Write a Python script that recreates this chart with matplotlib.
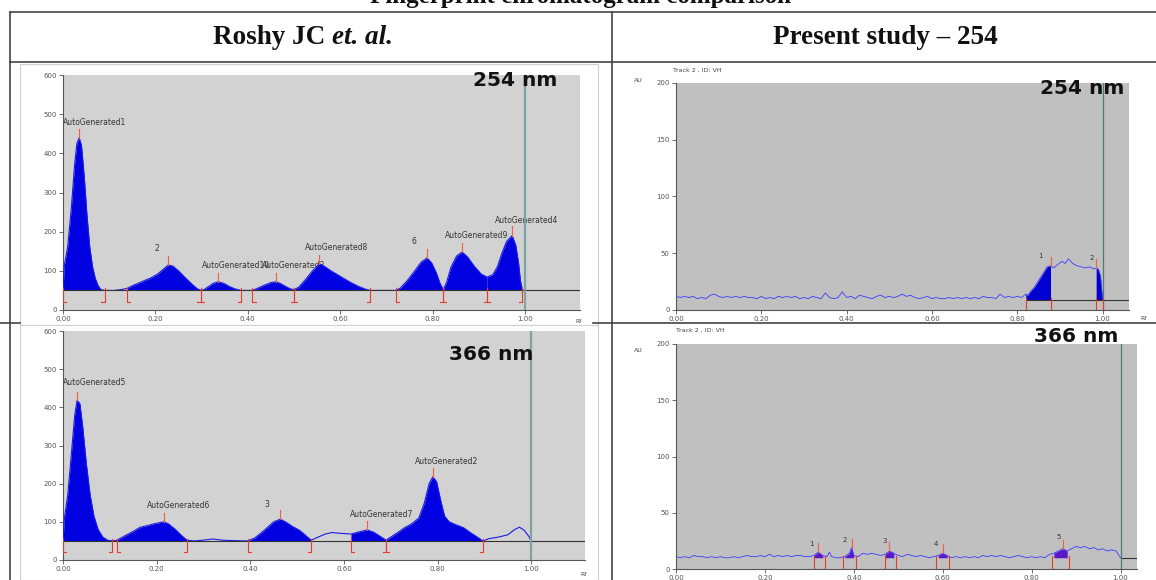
import matplotlib
matplotlib.use("Agg")
import matplotlib.pyplot as plt
from matplotlib.lines import Line2D
from matplotlib.patches import Rectangle
import numpy as np

W, H = 1156, 580

# ---- Roshy JC et al., 254 nm (baseline 50) ----
TL_RF = [0.000, 0.003, 0.010, 0.018, 0.025, 0.030, 0.035, 0.040, 0.046, 0.052, 0.058, 0.064,
         0.070, 0.076, 0.082, 0.090, 0.110, 0.125, 0.138, 0.150, 0.170, 0.190, 0.205, 0.218,
         0.228, 0.238, 0.250, 0.265, 0.280, 0.290, 0.298, 0.305, 0.315, 0.325, 0.336, 0.348,
         0.360, 0.372, 0.385, 0.400, 0.410, 0.420, 0.435, 0.450, 0.460, 0.470, 0.482, 0.492,
         0.500, 0.510, 0.525, 0.540, 0.555, 0.565, 0.580, 0.600, 0.620, 0.640, 0.655, 0.665,
         0.690, 0.720, 0.730, 0.745, 0.760, 0.775, 0.788, 0.798, 0.808, 0.816, 0.823, 0.830,
         0.840, 0.852, 0.864, 0.876, 0.890, 0.905, 0.918, 0.930, 0.940, 0.950, 0.960, 0.972,
         0.980, 0.986, 0.990, 0.994, 1.000]
TL_AU = [50, 115, 160, 260, 370, 425, 440, 420, 340, 240, 160, 110,
         80, 62, 52, 50, 50, 52, 55, 62, 72, 82, 92, 105,
         115, 112, 100, 82, 65, 55, 50, 52, 60, 68, 72, 68,
         60, 54, 50, 50, 50, 55, 63, 70, 72, 68, 60, 54,
         52, 58, 78, 100, 118, 112, 100, 86, 72, 60, 53, 50,
         50, 50, 56, 75, 98, 122, 133, 120, 95, 68, 52, 70,
         110, 138, 148, 135, 112, 92, 84, 90, 110, 145, 175, 190,
         165, 120, 75, 52, 50]
TL_WINDOWS = [(0.000, 0.090), (0.138, 0.298), (0.298, 0.385), (0.410, 0.500),
              (0.500, 0.665), (0.720, 0.823), (0.823, 0.918), (0.918, 0.994)]
TL_LABELS = ["AutoGenerated1", "2", "AutoGenerated10", "AutoGenerated3",
             "AutoGenerated8", "6", "AutoGenerated9", "AutoGenerated4"]
TL_LABEL_RF = [0.0, 0.197, 0.300, 0.430, 0.524, 0.755, 0.827, 0.935]
TL_LABEL_AU = [472, 150, 107, 107, 153, 168, 183, 222]

# ---- Roshy JC et al., 366 nm (baseline 50) ----
BL_RF = [0.000, 0.003, 0.010, 0.018, 0.025, 0.030, 0.036, 0.042, 0.050, 0.058, 0.066, 0.075,
         0.085, 0.095, 0.105, 0.115, 0.130, 0.150, 0.165, 0.180, 0.195, 0.215, 0.225, 0.240,
         0.255, 0.265, 0.280, 0.300, 0.320, 0.340, 0.360, 0.390, 0.395, 0.410, 0.430, 0.450,
         0.464, 0.475, 0.490, 0.505, 0.515, 0.530, 0.545, 0.560, 0.575, 0.590, 0.605, 0.615,
         0.630, 0.650, 0.665, 0.680, 0.690, 0.700, 0.715, 0.730, 0.745, 0.760, 0.772, 0.782,
         0.790, 0.798, 0.806, 0.815, 0.825, 0.840, 0.855, 0.870, 0.885, 0.897, 0.910, 0.930,
         0.950, 0.965, 0.975, 0.985, 0.995, 1.000]
BL_AU = [50, 110, 170, 280, 380, 418, 410, 350, 250, 170, 115, 80,
         60, 52, 50, 52, 62, 75, 86, 90, 95, 100, 95, 80,
         62, 52, 50, 52, 55, 52, 51, 50, 50, 58, 78, 100,
         107, 100, 88, 78, 68, 52, 60, 68, 72, 70, 69, 68,
         73, 79, 72, 60, 52, 60, 72, 85, 95, 110, 150, 200,
         218, 205, 160, 115, 100, 92, 85, 72, 60, 50, 56, 60,
         66, 80, 86, 78, 62, 50]
BL_WINDOWS = [(0.000, 0.105), (0.115, 0.265), (0.395, 0.530), (0.615, 0.690), (0.690, 0.897)]
BL_LABELS = ["AutoGenerated5", "AutoGenerated6", "3", "AutoGenerated7", "AutoGenerated2"]
BL_LABEL_RF = [0.0, 0.179, 0.430, 0.613, 0.752]
BL_LABEL_AU = [458, 136, 140, 113, 251]

# ---- Present study, 254 nm (baseline ~9) ----
TR_RF = [0.00, 0.01, 0.02, 0.03, 0.04, 0.05, 0.06, 0.07, 0.08, 0.09, 0.10, 0.11, 0.12, 0.13,
         0.14, 0.15, 0.16, 0.17, 0.18, 0.19, 0.20, 0.21, 0.22, 0.23, 0.24, 0.25, 0.26, 0.27,
         0.28, 0.29, 0.30, 0.31, 0.32, 0.33, 0.34, 0.35, 0.36, 0.37, 0.38, 0.39, 0.40, 0.41,
         0.42, 0.43, 0.44, 0.45, 0.46, 0.47, 0.48, 0.49, 0.50, 0.51, 0.52, 0.53, 0.54, 0.55,
         0.56, 0.57, 0.58, 0.59, 0.60, 0.61, 0.62, 0.63, 0.64, 0.65, 0.66, 0.67, 0.68, 0.69,
         0.70, 0.71, 0.72, 0.73, 0.74, 0.75, 0.76, 0.77, 0.78, 0.79, 0.80, 0.81, 0.82, 0.825,
         0.83, 0.84, 0.85, 0.86, 0.87, 0.878, 0.885, 0.895, 0.905, 0.912, 0.92, 0.93, 0.94,
         0.95, 0.96, 0.97, 0.98, 0.985, 0.99, 0.995, 1.00]
TR_AU = [12, 11, 12, 11, 12, 10, 11, 10, 13, 14, 12, 11, 12, 11,
         12, 11, 12, 11, 11, 10, 12, 10, 11, 10, 12, 11, 12, 11,
         12, 10, 11, 10, 12, 11, 10, 15, 11, 10, 11, 16, 11, 12,
         10, 13, 12, 11, 10, 12, 13, 11, 12, 11, 12, 14, 12, 13,
         11, 10, 11, 12, 10, 11, 10, 10, 11, 10, 11, 10, 11, 10,
         11, 10, 12, 11, 11, 10, 14, 11, 12, 11, 12, 11, 14, 13,
         16, 20, 26, 32, 38, 39, 37, 40, 43, 41, 45, 41, 39,
         38, 37, 38, 36, 37, 36, 30, 10]
TR_WINDOWS = [(0.820, 0.878), (0.985, 1.000)]
TR_LABELS = ["1", "2"]
TR_LABEL_RF = [0.849, 0.970]
TR_LABEL_AU = [46, 44]

# ---- Present study, 366 nm (baseline ~10) ----
BR_RF = [0.00, 0.01, 0.02, 0.03, 0.04, 0.05, 0.06, 0.07, 0.08, 0.09, 0.10, 0.11, 0.12, 0.13,
         0.14, 0.15, 0.16, 0.17, 0.18, 0.19, 0.20, 0.21, 0.22, 0.23, 0.24, 0.25, 0.26, 0.27,
         0.28, 0.29, 0.30, 0.31, 0.32, 0.33, 0.34, 0.345, 0.35, 0.36, 0.37, 0.38, 0.39, 0.395,
         0.40, 0.41, 0.42, 0.43, 0.44, 0.45, 0.46, 0.47, 0.48, 0.49, 0.50, 0.51, 0.52, 0.53,
         0.54, 0.55, 0.56, 0.57, 0.58, 0.59, 0.60, 0.61, 0.62, 0.63, 0.64, 0.65, 0.66, 0.67,
         0.68, 0.69, 0.70, 0.71, 0.72, 0.73, 0.74, 0.75, 0.76, 0.77, 0.78, 0.79, 0.80, 0.81,
         0.82, 0.83, 0.84, 0.85, 0.86, 0.87, 0.88, 0.89, 0.90, 0.91, 0.92, 0.93, 0.94, 0.95,
         0.96, 0.97, 0.98, 0.99, 1.00]
BR_AU = [11, 10, 11, 10, 12, 11, 11, 10, 11, 10, 11, 10, 10, 11,
         10, 11, 12, 11, 11, 12, 11, 13, 11, 12, 11, 12, 11, 12,
         12, 11, 11, 12, 15, 12, 11, 15, 11, 10, 10, 11, 14, 19,
         12, 11, 14, 13, 14, 13, 12, 13, 16, 14, 12, 11, 13, 12,
         11, 12, 11, 10, 11, 12, 14, 12, 10, 11, 10, 11, 10, 11,
         10, 12, 11, 12, 11, 12, 11, 10, 11, 12, 11, 10, 11, 10,
         11, 10, 13, 14, 16, 18, 16, 18, 20, 19, 20, 18, 19, 17,
         18, 16, 17, 16, 10]
BR_WINDOWS = [(0.31, 0.335), (0.375, 0.405), (0.47, 0.495), (0.585, 0.615), (0.845, 0.885)]
BR_LABELS = ["1", "2", "3", "4", "5"]
BR_LABEL_RF = [0.300, 0.375, 0.465, 0.580, 0.855]
BR_LABEL_AU = [20, 24, 23, 20, 27]

LEFT_YTICKS = [0, 100, 200, 300, 400, 500, 600]
RIGHT_YTICKS = [0, 50, 100, 150, 200]
RF_TICKS = [0.0, 0.2, 0.4, 0.6, 0.8, 1.0]


def px_axes(fig, x0, y0, x1, y1):
    return fig.add_axes([x0 / W, 1 - y1 / H, (x1 - x0) / W, (y1 - y0) / H])


def fig_line(fig, xs, ys, color="#444444", lw=1.2):
    fig.add_artist(Line2D([x / W for x in xs], [1 - y / H for y in ys],
                          transform=fig.transFigure, color=color, lw=lw, zorder=10))


def draw_chrom(ax, rf, au, windows, base, xmax, ymax, yticks, bg, fill, line, lw,
               vline_color, vline_lw, base_from):
    rf = np.asarray(rf, dtype=float)
    au = np.asarray(au, dtype=float)
    ax.set_facecolor(bg)
    ax.set_xlim(0, xmax)
    ax.set_ylim(0, ymax)
    ax.plot(rf, au, color=line, lw=lw, zorder=3)
    d = 0.03 * ymax
    dx = 0.007
    for a, b in windows:
        m = (rf >= a - 1e-9) & (rf <= b + 1e-9)
        ax.fill_between(rf[m], au[m], base, color=fill, lw=0, zorder=2)
        ax.plot([a, a, a + dx], [base + 0.3 * d, base - 1.6 * d, base - 1.6 * d],
                color="#e83a2a", lw=0.8, zorder=4)
        ax.plot([b - dx, b, b], [base - 1.6 * d, base - 1.6 * d, base + 0.3 * d],
                color="#e83a2a", lw=0.8, zorder=4)
        i = np.argmax(np.where(m, au, -1))
        ax.plot([rf[i], rf[i]], [au[i], au[i] + 1.3 * d], color="#f06040", lw=0.8, zorder=4)
    ax.plot([base_from, xmax], [base, base], color="#333333", lw=0.8, zorder=3)
    ax.axvline(1.0, color=vline_color, lw=vline_lw, zorder=3)
    for s in ("top", "right"):
        ax.spines[s].set_visible(False)
    for s in ("left", "bottom"):
        ax.spines[s].set_color("#555555")
        ax.spines[s].set_linewidth(0.8)
    ax.set_yticks(yticks)
    ax.set_yticklabels([str(t) for t in yticks])
    ax.set_xticks(RF_TICKS)
    ax.set_xticklabels([f"{t:.2f}" for t in RF_TICKS])
    ax.tick_params(labelsize=5, colors="#555555", length=3, width=0.6, pad=1.5)


def add_labels(ax, labels, xs, ys, fs=5.5):
    for s, x, y in zip(labels, xs, ys):
        ax.text(x, y, s, fontsize=fs, color="#333333", zorder=1, clip_on=True)


fig = plt.figure(figsize=(W / 100, H / 100), dpi=100)

# white screenshot boxes in the left column
for y0, y1 in ((64, 325), (325, 580)):
    fig.add_artist(Rectangle((20 / W, 1 - y1 / H), 578 / W, (y1 - y0) / H,
                             transform=fig.transFigure, fc="white", ec="#d0d0d0",
                             lw=0.8, zorder=-1))

ax_tl = px_axes(fig, 63, 75, 580, 310)
draw_chrom(ax_tl, TL_RF, TL_AU, TL_WINDOWS, 50, 1.119, 600, LEFT_YTICKS,
           "#d2d2d2", "#0000e0", "#1a1ae8", 0.8, "#7fa3a3", 1.6, 0.0)
add_labels(ax_tl, TL_LABELS, TL_LABEL_RF, TL_LABEL_AU)

ax_bl = px_axes(fig, 63, 331, 585, 560)
draw_chrom(ax_bl, BL_RF, BL_AU, BL_WINDOWS, 50, 1.115, 600, LEFT_YTICKS,
           "#d2d2d2", "#0000e0", "#1a1ae8", 0.8, "#7fa3a3", 1.6, 0.0)
add_labels(ax_bl, BL_LABELS, BL_LABEL_RF, BL_LABEL_AU)

ax_tr = px_axes(fig, 676, 83, 1129, 310)
draw_chrom(ax_tr, TR_RF, TR_AU, TR_WINDOWS, 9, 1.062, 200, RIGHT_YTICKS,
           "#c0c0c0", "#0000d0", "#3b3bff", 0.6, "#4f7f63", 0.9, 0.82)
add_labels(ax_tr, TR_LABELS, TR_LABEL_RF, TR_LABEL_AU, fs=5)

ax_br = px_axes(fig, 676, 344, 1137, 569)
draw_chrom(ax_br, BR_RF, BR_AU, BR_WINDOWS, 10, 1.037, 200, RIGHT_YTICKS,
           "#c0c0c0", "#5a18c8", "#3b3bff", 0.6, "#4f7f63", 0.9, 1.0)
add_labels(ax_br, BR_LABELS, BR_LABEL_RF, BR_LABEL_AU, fs=5)

# wavelength tags
tag = dict(fontsize=14.5, fontweight="bold", family="DejaVu Sans", color="#111111",
           va="center", ha="right", zorder=12)
fig.text(557 / W, 1 - 80 / H, "254 nm", **tag)
fig.text(533 / W, 1 - 355 / H, "366 nm", **tag)
fig.text(1124 / W, 1 - 88 / H, "254 nm", **tag)
fig.text(1118 / W, 1 - 337 / H, "366 nm", **tag)

# small instrument texts
small = dict(fontsize=4.5, color="#444444", va="center")
fig.text(673 / W, 1 - 70 / H, "Track 2 , ID: VH", **small)
fig.text(676 / W, 1 - 330 / H, "Track 2 , ID: VH", **small)
fig.text(634 / W, 1 - 80 / H, "AU", **small)
fig.text(634 / W, 1 - 350 / H, "AU", **small)
fig.text(1140 / W, 1 - 319 / H, "Rf", **small)
fig.text(580 / W, 1 - 575 / H, "Rf", **small)
fig.text(575 / W, 1 - 321 / H, "Rf", **small)

# table grid
fig_line(fig, [10, 1156], [12, 12])
fig_line(fig, [10, 1156], [62, 62])
fig_line(fig, [10, 10], [12, 580])
fig_line(fig, [612, 612], [12, 580])
fig_line(fig, [593, 1156], [323, 323])
fig_line(fig, [0, 20], [323, 323])

# headers
hdr = dict(fontsize=19.5, fontweight="bold", family="Liberation Serif", color="#111111",
           va="center")
fig.text(325 / W, 1 - 38 / H, "Roshy JC", ha="right", **hdr)
fig.text(332 / W, 1 - 38 / H, "et. al.", ha="left", style="italic", **hdr)
fig.text(885 / W, 1 - 38 / H, "Present study \u2013 254", ha="center", **hdr)

# title cut off at the top edge
fig.text(580 / W, 1 - 3 / H, "Fingerprint chromatogram comparison", ha="center",
         va="baseline", fontsize=18, fontweight="bold", family="Liberation Serif",
         color="#111111")

fig.savefig("out.png", dpi=100)
